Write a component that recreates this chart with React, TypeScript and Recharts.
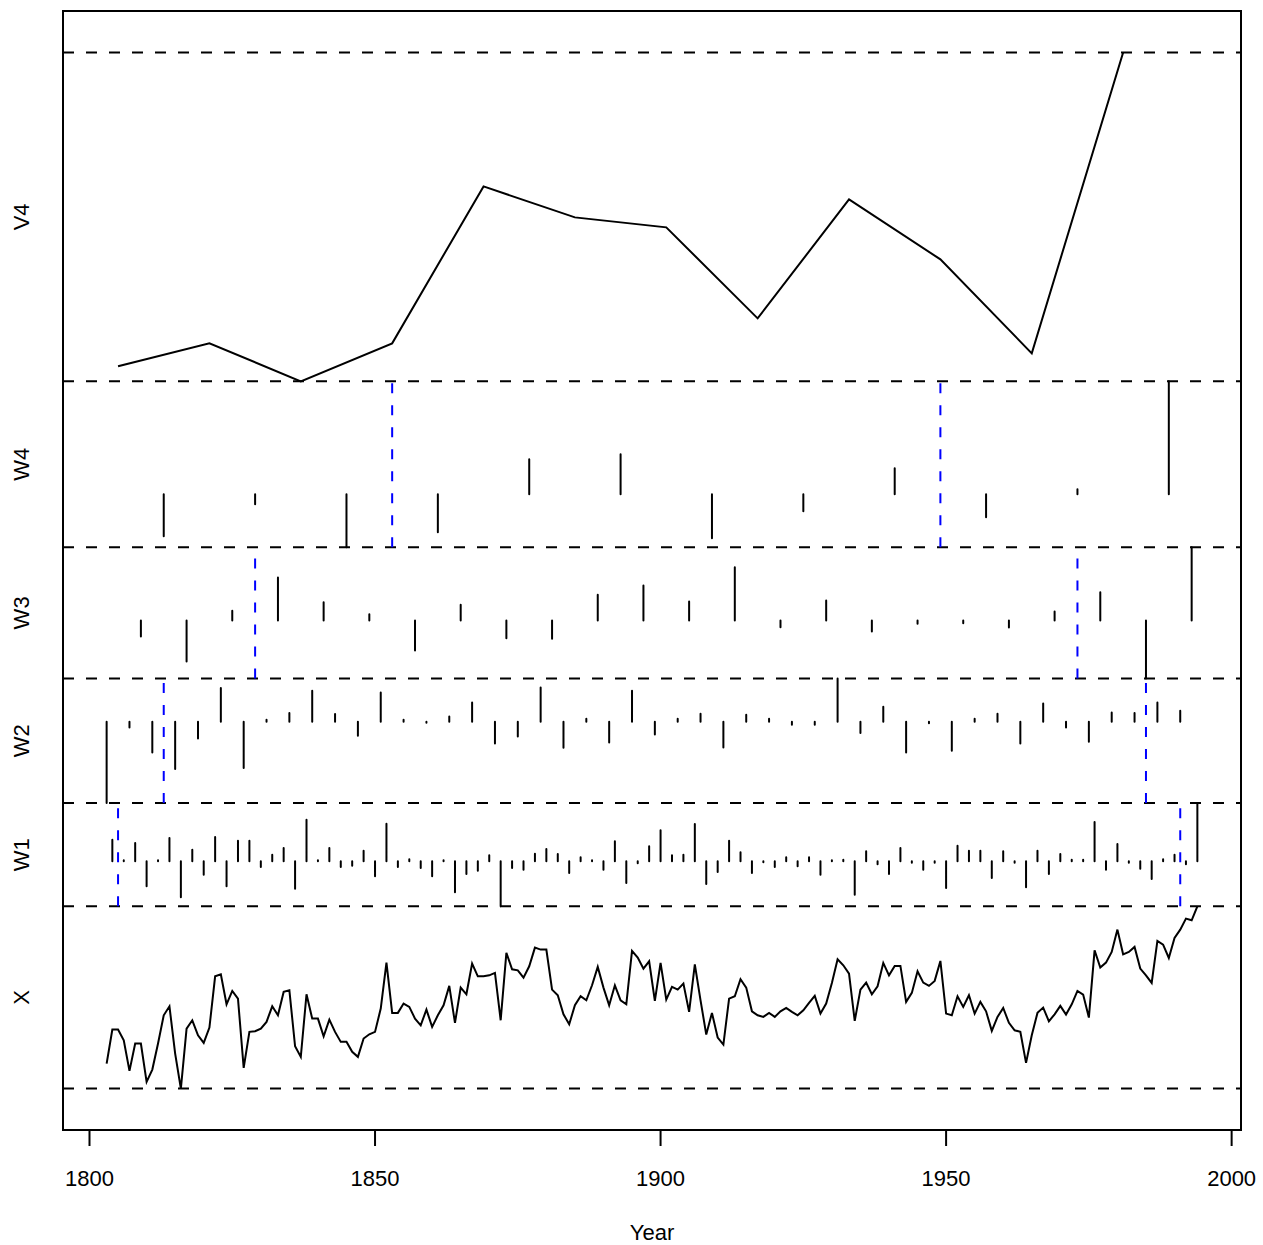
import { ComposedChart, Line, XAxis, YAxis, ReferenceLine, ReferenceArea } from 'recharts'

const FONT = '"Liberation Sans", Arial, Helvetica, sans-serif'

const yearTicks = [1800, 1850, 1900, 1950, 2000]

// the series itself, one value a year from 1803 to 1994
const xStart = 1803
const xValues = [
  2.5, 5.9, 5.9, 4.83, 1.77, 4.5, 4.5, 0.67, 1.9, 4.5,
  7.33, 8.23, 3.5, 0.0, 6.0, 6.83, 5.33, 4.57, 6.1, 11.23,
  11.43, 8.43, 9.77, 9.0, 2.07, 5.67, 5.73, 6.0, 6.67, 8.23,
  7.33, 9.67, 9.83, 4.23, 3.17, 9.43, 7.0, 7.0, 5.23, 6.9,
  5.67, 4.67, 4.67, 3.67, 3.17, 5.0, 5.43, 5.67, 8.0, 12.6,
  7.57, 7.57, 8.5, 8.17, 7.0, 6.33, 7.9, 6.17, 7.33, 8.33,
  10.27, 6.57, 10.1, 9.43, 12.5, 11.23, 11.23, 11.33, 11.57, 6.83,
  13.57, 11.93, 11.83, 11.1, 12.23, 14.1, 13.9, 13.9, 9.9, 9.33,
  7.43, 6.43, 8.33, 9.23, 8.83, 10.33, 12.17, 10.1, 8.33, 10.33,
  8.83, 8.43, 13.77, 13.1, 12.0, 12.73, 8.77, 12.57, 8.9, 10.17,
  9.9, 10.5, 7.67, 12.43, 8.83, 5.4, 7.57, 5.1, 4.4, 9.0,
  9.23, 10.93, 10.1, 7.73, 7.33, 7.17, 7.57, 7.17, 7.73, 8.07,
  7.67, 7.33, 7.83, 8.57, 9.27, 7.5, 8.5, 10.57, 12.93, 12.33,
  11.5, 6.77, 9.9, 10.6, 9.43, 10.23, 12.57, 11.33, 12.27, 12.27,
  8.67, 9.57, 11.73, 10.6, 10.27, 10.77, 12.77, 7.5, 7.33, 9.23,
  8.17, 9.33, 7.5, 8.67, 7.73, 5.77, 7.17, 8.07, 6.57, 5.83,
  5.67, 2.57, 5.33, 7.57, 8.1, 6.73, 7.43, 8.27, 7.4, 8.43,
  9.77, 9.4, 7.1, 13.83, 12.1, 12.6, 13.67, 15.9, 13.43, 13.67,
  14.17, 12.0, 11.33, 10.57, 14.77, 14.4, 13.07, 15.07, 15.9, 17.0,
  16.83, 18.23,
]

// wavelet coefficients, level 1 (every 2 years)
const w1Start = 1804
const w1Values = [
  2.17, 0.1, 1.83, -2.5, 0.1, 2.33, -3.6, 1.17, -1.33, 2.43,
  -2.5, 2.07, 2.07, -0.57, 0.67, 1.33, -2.73, 4.17, 0.1, 1.33,
  -0.57, -0.43, 1.07, -1.5, 3.77, -0.57, 0.2, -0.67, -1.5, 0.1,
  -3.1, -1.27, -0.93, 0.6, -4.5, -0.67, -0.83, 0.77, 1.23, 0.73,
  -1.17, 0.4, 0.1, -0.83, 2.0, -2.17, -0.2, 1.5, 3.1, 0.6,
  0.67, 3.73, -2.27, -1.07, 2.07, 0.9, -1.17, -0.1, -0.57, 0.4,
  -0.5, 0.4, -1.33, 0.1, 0.15, -3.33, 1.0, -0.3, -1.27, 1.33,
  -0.15, -0.83, -0.15, -2.67, 1.57, 1.07, 1.07, -1.67, 1.0, -0.15,
  -2.6, 1.07, -1.27, 0.73, 0.15, 0.15, 3.93, -0.83, 1.73, -0.15,
  -0.73, -1.77, 0.2, 0.67, -0.3, 5.83,
]

// level 2 (every 4 years)
const w2Start = 1803
const w2Values = [
  -8.13, -0.57, -3.07, -4.73, -1.67, 3.37, -4.63, 0.2, 0.87, 3.1, 0.77, -1.4,
  2.93, 0.2, -0.1, 0.53, 1.93, -2.17, -1.47, 3.43, -2.6, 0.3, -2.07, 3.1,
  -1.27, 0.3, 0.8, -2.57, 0.7, 0.3, -0.3, -0.3, 4.33, -1.13, 1.5, -3.07,
  -0.15, -2.9, 0.3, 0.8, -2.17, 1.83, -0.57, -2.0, 0.93, 0.87, 1.93, 1.1,
]

// level 3 (every 8 years)
const w3Start = 1809
const w3Values = [
  -1.6, -4.1, 0.97, 4.3, 1.83, 0.63, -3.0, 1.57, -1.77, -1.83, 2.57, 3.5,
  1.9, 5.33, -0.67, 2.0, -1.1, -0.33, -0.27, -0.7, 0.9, 2.83, -5.8, 7.33,
]

// level 4 (every 16 years)
const w4Start = 1813
const w4Values = [-4.2, -1.0, -5.3, -3.8, 3.5, 4.0, -4.4, -1.7, 2.6, -2.3, 0.5, 11.3]

// level 4 smooth
const v4Start = 1805
const v4Values = [3.3, 5.6, 1.8, 5.6, 21.3, 18.2, 17.2, 8.1, 20.0, 14.0, 4.6, 34.7]

// boundary marks (blue) per level
const w1Bounds = [1805, 1991]
const w2Bounds = [1813, 1985]
const w3Bounds = [1829, 1973]
const w4Bounds = [1853, 1949]

const panels = [
  { name: 'X', start: xStart, step: 1, values: xValues, spikes: false, bounds: [] as number[] },
  { name: 'W1', start: w1Start, step: 2, values: w1Values, spikes: true, bounds: w1Bounds },
  { name: 'W2', start: w2Start, step: 4, values: w2Values, spikes: true, bounds: w2Bounds },
  { name: 'W3', start: w3Start, step: 8, values: w3Values, spikes: true, bounds: w3Bounds },
  { name: 'W4', start: w4Start, step: 16, values: w4Values, spikes: true, bounds: w4Bounds },
  { name: 'V4', start: v4Start, step: 16, values: v4Values, spikes: false, bounds: [] as number[] },
]

// stack panels bottom to top, each one as tall as its own range
let level = 0
const stacked = panels.map((p) => {
  const lo = Math.min(...p.values)
  const hi = Math.max(...p.values)
  const bottom = level
  const shift = bottom - lo
  level = bottom + (hi - lo)
  const years = p.values.map((_, i) => p.start + p.step * i)
  const data = p.spikes
    ? p.values.flatMap((v, i) => [
        { year: years[i], y: shift },
        { year: years[i], y: v + shift },
        { year: years[i], y: null },
      ])
    : p.values.map((v, i) => ({ year: years[i], y: v + shift }))
  return { ...p, bottom, top: level, mid: (bottom + level) / 2, data }
})
const total = level

const boundaries = [0, ...stacked.map((s) => s.top)]
const mids = stacked.map((s) => s.mid)

const xFirst = xStart
const xLast = xStart + xValues.length - 1
const xPad = (xLast - xFirst) * 0.04
const xDomain = [xFirst - xPad, xLast + xPad]
const yDomain = [-total * 0.04, total * 1.04]

function PanelTick(props: any) {
  const { y, payload } = props
  const idx = mids.indexOf(payload.value)
  const name = idx >= 0 ? stacked[idx].name : ''
  return (
    <text
      x={29}
      y={y}
      transform={`rotate(-90, 29, ${y})`}
      textAnchor="middle"
      fill="#000"
      fontSize={22}
      fontFamily={FONT}
    >
      {name}
    </text>
  )
}

export default function App() {
  return (
    <div style={{ position: 'absolute', left: 0, top: 0, background: '#fff' }}>
      <ComposedChart width={1263} height={1245} margin={{ top: 11, right: 22, bottom: 0, left: 0 }}>
        <XAxis
          dataKey="year"
          type="number"
          domain={xDomain}
          allowDataOverflow
          ticks={yearTicks}
          interval={0}
          axisLine={false}
          tickSize={16}
          tickMargin={24}
          tickLine={{ stroke: '#000', strokeWidth: 2 }}
          tick={{ fill: '#000', fontSize: 22, fontFamily: FONT }}
          height={115}
          label={{ value: 'Year', position: 'insideBottom', offset: 5, fill: '#000', fontSize: 22, fontFamily: FONT }}
        />
        <YAxis
          type="number"
          domain={yDomain}
          allowDataOverflow
          width={63}
          ticks={mids}
          interval={0}
          axisLine={false}
          tickLine={false}
          tick={(props: any) => <PanelTick {...props} />}
        />
        <ReferenceArea
          x1={xDomain[0]}
          x2={xDomain[1]}
          y1={yDomain[0]}
          y2={yDomain[1]}
          fill="none"
          stroke="#000"
          strokeWidth={2}
          ifOverflow="visible"
        />
        {boundaries.map((b, i) => (
          <ReferenceLine key={`b${i}`} y={b} stroke="#000" strokeWidth={2} strokeDasharray="11 12" ifOverflow="visible" />
        ))}
        {stacked.flatMap((s) =>
          s.bounds.map((yr) => (
            <ReferenceLine
              key={`${s.name}-${yr}`}
              segment={[{ x: yr, y: s.bottom }, { x: yr, y: s.top }]}
              stroke="#0000ff"
              strokeWidth={2}
              strokeDasharray="10 12"
              ifOverflow="visible"
            />
          ))
        )}
        {stacked.map((s) => (
          <Line
            key={s.name}
            data={s.data}
            dataKey="y"
            type="linear"
            stroke="#000"
            strokeWidth={2}
            strokeLinecap={s.spikes ? 'round' : 'butt'}
            dot={false}
            activeDot={false}
            connectNulls={false}
            isAnimationActive={false}
          />
        ))}
      </ComposedChart>
    </div>
  )
}
